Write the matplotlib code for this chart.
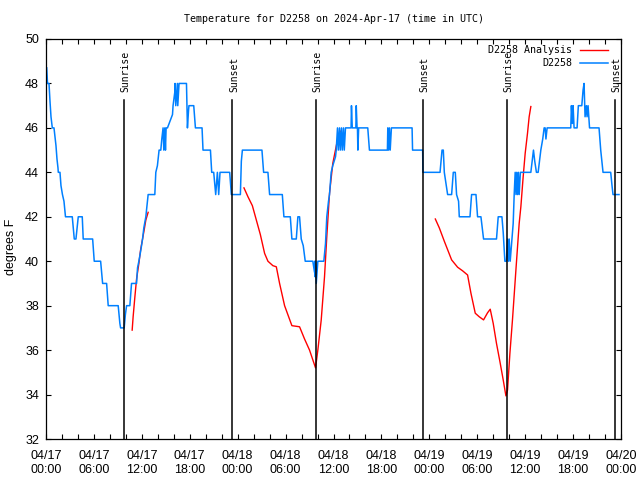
import numpy as np
import matplotlib
matplotlib.use("Agg")
import matplotlib.pyplot as plt
from matplotlib.ticker import MultipleLocator, FixedLocator, FixedFormatter

# hours since 2024-04-17 00:00 UTC
obs_t = [0.09, 0.19, 0.375, 0.5, 0.625, 0.79, 1.0, 1.125, 1.25, 1.375, 1.5, 1.54, 1.75, 1.875,
         2.06, 2.25, 2.44, 3.29, 3.41, 3.54, 3.75, 4.04, 4.54, 4.66, 5.84, 6.04, 6.84, 7.09,
         7.59, 7.79, 9.04, 9.25, 9.34, 9.79, 9.94, 10.09, 10.5, 10.71, 11.34, 11.46, 11.63,
         11.875, 12.09, 12.25, 12.5, 12.71, 12.79, 13.625, 13.75, 13.95, 14.16, 14.375, 14.5,
         14.66, 14.75, 14.875, 14.96, 15.04, 15.21, 15.84, 15.91, 16.125, 16.16, 16.25, 16.45,
         16.5, 16.66, 16.75, 17.59, 17.71, 17.85, 17.9, 18.5, 18.71, 19.54, 19.66, 20.59, 20.75,
         21.0, 21.125, 21.25, 21.46, 21.625, 21.79, 23.0, 23.21, 24.34, 24.46, 24.59, 27.04,
         27.25, 27.79, 28.0, 29.59, 29.79, 30.59, 30.79, 31.34, 31.54, 31.75, 31.96, 32.21,
         32.46, 33.41, 33.625, 33.65, 33.7, 33.75, 33.84, 34.04, 34.79, 35.0, 35.16, 35.375,
         35.5, 35.71, 35.91, 36.25, 36.34, 36.5, 36.6, 36.75, 36.85, 37.0, 37.1, 37.25, 37.35,
         37.5, 38.2, 38.25, 38.35, 38.8, 38.85, 38.95, 39.0, 39.05, 39.15, 40.29, 40.5, 42.75,
         42.8, 42.9, 43.0, 43.1, 43.25, 43.5, 45.84, 45.9, 47.16, 47.2, 49.34, 49.59, 49.75,
         49.875, 50.29, 50.79, 51.0, 51.25, 51.41, 51.66, 51.75, 53.09, 53.29, 53.84, 54.04,
         54.46, 54.625, 54.79, 56.41, 56.625, 57.09, 57.25, 57.46, 57.66, 57.79, 57.91, 58.0,
         58.125, 58.34, 58.5, 58.625, 58.75, 58.85, 58.95, 59.05, 59.15, 59.25, 59.4, 59.66,
         60.71, 61.04, 61.2, 61.41, 61.625, 61.96, 62.2, 62.375, 62.5, 62.6, 62.75, 65.71,
         65.79, 65.91, 66.0, 66.125, 66.5, 66.66, 67.09, 67.25, 67.375, 67.5, 67.66, 67.75,
         67.875, 68.06, 69.25, 69.46, 69.66, 69.75, 70.71, 70.875, 71.0, 71.75]
obs_v = [48.7, 48.0, 48.0, 47.2, 46.5, 46.0, 46.0, 45.6, 45.2, 44.6, 44.2, 44.0, 44.0, 43.4,
         43.0, 42.7, 42.0, 42.0, 41.5, 41.0, 41.0, 42.0, 42.0, 41.0, 41.0, 40.0, 40.0, 39.0,
         39.0, 38.0, 38.0, 37.2, 37.0, 37.0, 37.6, 38.0, 38.0, 39.0, 39.0, 39.7, 40.0,
         40.5, 41.0, 41.5, 42.0, 42.75, 43.0, 43.0, 44.0, 44.3, 45.0, 45.0, 45.5,
         46.0, 45.0, 46.0, 45.0, 46.0, 46.0, 46.6, 47.0, 47.6, 48.0, 47.0, 48.0,
         47.0, 48.0, 48.0, 48.0, 46.0, 46.8, 47.0, 47.0, 46.0, 46.0, 45.0, 45.0, 44.0,
         44.0, 43.5, 43.0, 44.0, 43.0, 44.0, 44.0, 43.0, 43.0, 44.5, 45.0, 45.0,
         44.0, 44.0, 43.0, 43.0, 42.0, 42.0, 41.0, 41.0, 42.0, 42.0, 41.0, 40.7,
         40.0, 40.0, 39.5, 40.0, 39.3, 40.0, 39.0, 40.0, 40.0, 40.8, 42.0, 42.7,
         43.0, 44.0, 44.3, 44.7, 45.0, 46.0, 45.0, 46.0, 45.0, 46.0, 45.0, 46.0, 45.0,
         46.0, 46.0, 47.0, 46.0, 46.0, 47.0, 46.0, 46.0, 45.0, 46.0, 46.0, 45.0, 45.0,
         46.0, 45.0, 46.0, 45.0, 46.0, 46.0, 46.0, 45.0, 45.0, 44.0, 44.0, 45.0, 45.0,
         44.0, 43.0, 43.0, 44.0, 44.0, 43.0, 42.7, 42.0, 42.0, 43.0, 43.0, 42.0,
         42.0, 41.5, 41.0, 41.0, 42.0, 42.0, 41.3, 40.0, 40.0, 41.0, 40.0, 41.0,
         40.0, 41.0, 41.7, 43.0, 44.0, 43.0, 44.0, 43.0, 44.0, 43.0, 44.0, 44.0,
         44.0, 45.0, 44.5, 44.0, 44.0, 45.0, 45.5, 46.0, 46.0, 45.5, 46.0, 46.0,
         47.0, 46.2, 47.0, 46.0, 46.0, 47.0, 47.0, 47.7, 48.0, 46.5, 47.0, 46.5,
         47.0, 46.0, 46.0, 45.0, 44.3, 44.0, 44.0, 43.4, 43.0, 43.0]

ana1_t = [10.79, 10.91, 11.13, 11.34, 11.63, 11.84, 12.09, 12.29, 12.5, 12.79]
ana1_v = [36.9, 37.5, 38.4, 39.2, 39.9, 40.5, 41.0, 41.4, 41.85, 42.2]
ana2_t = [24.79, 25.29, 25.84, 26.34, 26.84, 27.375, 27.79, 28.41, 28.84, 29.25, 29.875,
          30.79, 31.75, 32.375, 33.0, 33.75, 34.04, 34.46, 34.875, 35.16, 35.5, 35.91,
          36.41, 36.84]
ana2_v = [43.3, 42.9, 42.5, 41.85, 41.2, 40.35, 40.0, 39.8, 39.75, 39.0, 38.0,
          37.1, 37.05, 36.5, 36.0, 35.2, 36.0, 37.35, 39.3, 41.1, 43.05, 44.4,
          45.3, 45.85]
ana3_t = [48.75, 49.25, 49.875, 50.79, 51.54, 52.16, 52.79, 53.21, 53.75, 54.25, 54.79,
          55.29, 55.625, 56.0, 56.41, 56.84, 57.25, 57.59, 57.79, 58.09, 58.41, 58.84,
          59.25, 59.46, 59.75, 60.0, 60.29, 60.5, 60.71]
ana3_v = [41.9, 41.5, 40.9, 40.06, 39.73, 39.57, 39.38, 38.56, 37.66, 37.5, 37.36,
          37.68, 37.84, 37.2, 36.3, 35.48, 34.66, 33.94, 34.2, 35.86, 37.36, 39.6,
          41.7, 42.45, 43.8, 44.85, 45.75, 46.5, 46.96]

sunrise_t = [9.79, 33.79, 57.71]
sunset_t = [23.34, 47.16, 71.21]

tick_hours = list(range(0, 73, 6))
tick_labels = []
for d in ["04/17", "04/18", "04/19"]:
  for hh in ["00:00", "06:00", "12:00", "18:00"]:
    tick_labels.append(d + "\n" + hh)
tick_labels.append("04/20\n00:00")

mono = "DejaVu Sans Mono"
sans = "Liberation Sans"

fig = plt.figure(figsize=(6.4, 4.8), dpi=100)
ax = fig.add_axes([46/640, 41/480, 575/640, 400/480])

nan = [np.nan]
ana_t = ana1_t + nan + ana2_t + nan + ana3_t
ana_v = ana1_v + nan + ana2_v + nan + ana3_v
ax.plot(ana_t, ana_v, color="#ff0000", lw=1.0, label="D2258 Analysis")
ax.plot(obs_t, obs_v, color="#0080ff", lw=1.1, label="D2258")

for t in sunrise_t:
  ax.axvline(t, ymin=0, ymax=0.8475, color="black", lw=1.1)
  ax.text(t + 0.2, 0.8675, "Sunrise", rotation=90, ha="center", va="bottom",
          transform=ax.get_xaxis_transform(), fontfamily=mono, fontsize=7)
for t in sunset_t:
  ax.axvline(t, ymin=0, ymax=0.8475, color="black", lw=1.1)
  ax.text(t + 0.2, 0.8675, "Sunset", rotation=90, ha="center", va="bottom",
          transform=ax.get_xaxis_transform(), fontfamily=mono, fontsize=7)

ax.set_xlim(0, 72)
ax.set_ylim(32, 50)
ax.xaxis.set_major_locator(FixedLocator(tick_hours))
ax.xaxis.set_major_formatter(FixedFormatter(tick_labels))
ax.xaxis.set_minor_locator(MultipleLocator(2))
ax.yaxis.set_major_locator(MultipleLocator(2))
ax.tick_params(which="both", direction="in", top=True, right=True, length=3.5, width=0.8)
ax.tick_params(axis="x", pad=8)
ax.tick_params(axis="y", pad=5)
for lab in ax.get_xticklabels() + ax.get_yticklabels():
  lab.set_fontfamily(sans)
  lab.set_fontsize(9)
for s in ax.spines.values():
  s.set_linewidth(0.9)

fig.text(333.5/640, 1 - 19/480, "Temperature for D2258 on 2024-Apr-17 (time in UTC)",
         ha="center", va="center", fontfamily=mono, fontsize=7.2)
fig.text(11/640, 1 - 247/480, "degrees F", rotation=90, ha="center", va="center",
         fontfamily=sans, fontsize=9)

ax.legend(loc="upper right", bbox_to_anchor=(608/640, 1 - 45/480), bbox_transform=fig.transFigure,
          frameon=False, markerfirst=False, prop={"family": mono, "size": 7.2},
          handlelength=2.8, handletextpad=0.8, labelspacing=0.3, borderpad=0, borderaxespad=0)

fig.savefig("out.png", dpi=100)
